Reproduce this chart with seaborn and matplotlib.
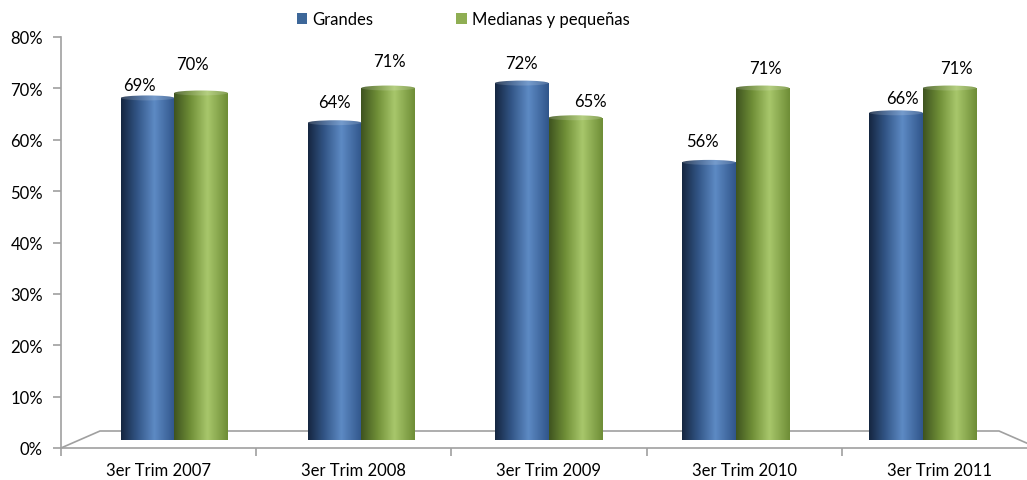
import numpy as np
import pandas as pd
import matplotlib
matplotlib.use("Agg")
import matplotlib.pyplot as plt
import seaborn as sns
from matplotlib.patches import Polygon, Ellipse, Patch
from matplotlib.colors import LinearSegmentedColormap, to_rgb

# ---------------- data ----------------
categories = ["3er Trim 2007", "3er Trim 2008", "3er Trim 2009", "3er Trim 2010", "3er Trim 2011"]
series_names = ["Grandes", "Medianas y pequeñas"]
grandes = [69, 64, 72, 56, 66]
medianas = [70, 71, 65, 71, 71]
y_ticks = [0, 10, 20, 30, 40, 50, 60, 70, 80]
y_tick_labels = [f"{t}%" for t in y_ticks]

# label nudges in pixels (dx, dy above bar top), style only
grandes_label_nudge = [(-8, 13), (0, 21), (0, 20), (-6, 21), (6, 15)]
medianas_label_nudge = [(-9, 29), (1, 27), (15, 17), (3, 20), (7, 20)]

df = pd.DataFrame({
    "cat": categories * 2,
    "series": [series_names[0]] * 5 + [series_names[1]] * 5,
    "val": grandes + medianas,
})

# ---------------- style ----------------
W, H, DPI = 1027, 481, 100
sns.set_style("white")
plt.rcParams["font.family"] = ["Lato", "DejaVu Sans"]
FS = 12
TXT = "#000000"
GRAY = "#a0a0a0"
BLUE = "#3d6799"
GREEN = "#8fae53"

fig = plt.figure(figsize=(W / DPI, H / DPI), dpi=DPI)
fig.patch.set_facecolor("white")

def fx(px):
    return px / W

def fy(py):
    return 1 - py / H

# main (front-plane) axes: ticks, spines, floor
ax = fig.add_axes([fx(61), fy(449), (1037 - 61) / W, (449 - 38) / H])
ax.set_facecolor("none")
ax.set_xlim(-0.5, 4.5)
ax.set_ylim(0, 80)
for s in ["top", "right"]:
    ax.spines[s].set_visible(False)
for s in ["left", "bottom"]:
    ax.spines[s].set_color(GRAY)
    ax.spines[s].set_linewidth(1.2)
ax.set_yticks(y_ticks)
ax.set_yticklabels(y_tick_labels, fontsize=FS, color=TXT)
ax.set_xticks(range(len(categories)))
ax.set_xticklabels(categories, fontsize=FS, color=TXT)
ax.set_xticks(np.arange(-0.5, 5.0, 1.0), minor=True)
ax.tick_params(axis="y", which="major", length=6, width=1.2, color=GRAY, pad=7, direction="out", left=True)
ax.tick_params(axis="x", which="major", length=0, pad=10, bottom=True)
ax.tick_params(axis="x", which="minor", length=6, width=1.2, color=GRAY, direction="out", bottom=True)

# floor of the 3D plot
floor = Polygon([(fx(61), fy(449)), (fx(100), fy(432)), (fx(999), fy(432)), (fx(1038), fy(449))],
                closed=False, fill=False, edgecolor=GRAY, linewidth=1.2,
                transform=fig.transFigure, clip_on=False, zorder=1)
fig.add_artist(floor)

# bar (back-plane) axes
ax2 = fig.add_axes([fx(80.7), fy(441), 935.6 / W, 396.6 / H], zorder=3)
ax2.set_facecolor("none")
sns.barplot(data=df, x="cat", y="val", hue="series", order=categories, hue_order=series_names,
            palette=[BLUE, GREEN], saturation=1, width=0.572, ax=ax2, legend=False)
ax2.set_xlim(-0.5, 4.5)
ax2.set_ylim(0, 80)
ax2.axis("off")

def mkcmap(stops, name):
    return LinearSegmentedColormap.from_list(name, stops)

def lighten(stops, f):
    out = []
    for p, c in stops:
        r = np.array(to_rgb(c))
        out.append((p, tuple(r + (1 - r) * f)))
    return out

blue_stops = [(0, "#152640"), (0.3, "#325586"), (0.62, "#5d8ac4"), (1, "#30558a")]
green_stops = [(0, "#3e531f"), (0.3, "#6f8e37"), (0.62, "#a8c76b"), (1, "#6e8d36")]
cmaps = {to_rgb(BLUE): (mkcmap(blue_stops, "b"), mkcmap(lighten(blue_stops, 0.15), "bl")),
         to_rgb(GREEN): (mkcmap(green_stops, "g"), mkcmap(lighten(green_stops, 0.15), "gl"))}

grad = np.linspace(0, 1, 256).reshape(1, -1)
ell_h = 1.0  # data units (~5 px)
bars = list(ax2.patches)
for p in bars:
    col = tuple(p.get_facecolor()[:3])
    key = min(cmaps.keys(), key=lambda k: sum((a - b) ** 2 for a, b in zip(k, col)))
    cm, cml = cmaps[key]
    x0, w, h = p.get_x(), p.get_width(), p.get_height()
    cx = x0 + w / 2
    p.set_facecolor("none")
    p.set_edgecolor("none")
    im = ax2.imshow(grad, extent=[x0, x0 + w, -ell_h, h], aspect="auto", cmap=cm,
                    interpolation="bilinear", zorder=2)
    im.set_clip_path(p)
    bot = Ellipse((cx, 0), w, ell_h, facecolor="none", edgecolor="none")
    ax2.add_patch(bot)
    im2 = ax2.imshow(grad, extent=[x0, x0 + w, -ell_h, h], aspect="auto", cmap=cm,
                     interpolation="bilinear", zorder=2)
    im2.set_clip_path(bot)
    top = Ellipse((cx, h), w, ell_h, facecolor="none", edgecolor="none")
    ax2.add_patch(top)
    im3 = ax2.imshow(grad, extent=[x0, x0 + w, h - ell_h, h + ell_h], aspect="auto", cmap=cml,
                     interpolation="bilinear", zorder=3)
    im3.set_clip_path(top)

ax2.set_xlim(-0.5, 4.5)
ax2.set_ylim(0, 80)

# data labels
centers = sorted([(p.get_x() + p.get_width() / 2, p.get_height()) for p in bars])
blue_centers = []
green_centers = []
for i in range(len(categories)):
    pair = centers[2 * i:2 * i + 2]
    blue_centers.append(pair[0][0])
    green_centers.append(pair[1][0])
for vals, cxs, nudges in [(grandes, blue_centers, grandes_label_nudge),
                          (medianas, green_centers, medianas_label_nudge)]:
    for v, cx, (dx, dy) in zip(vals, cxs, nudges):
        ax2.annotate(f"{v}%", xy=(cx, v), xytext=(dx, dy), textcoords="offset pixels",
                     ha="center", va="center", fontsize=FS, color=TXT, zorder=5,
                     annotation_clip=False)

# legend
handles = [Patch(facecolor=BLUE, edgecolor="none"), Patch(facecolor=GREEN, edgecolor="none")]
fig.legend(handles, series_names, loc="center left", bbox_to_anchor=(fx(282), fy(20)),
           ncol=2, frameon=False, fontsize=FS, handlelength=0.62, handleheight=0.62,
           handletextpad=0.32, columnspacing=4.95, labelcolor=TXT)

fig.savefig("out.png", dpi=DPI, facecolor="white")
